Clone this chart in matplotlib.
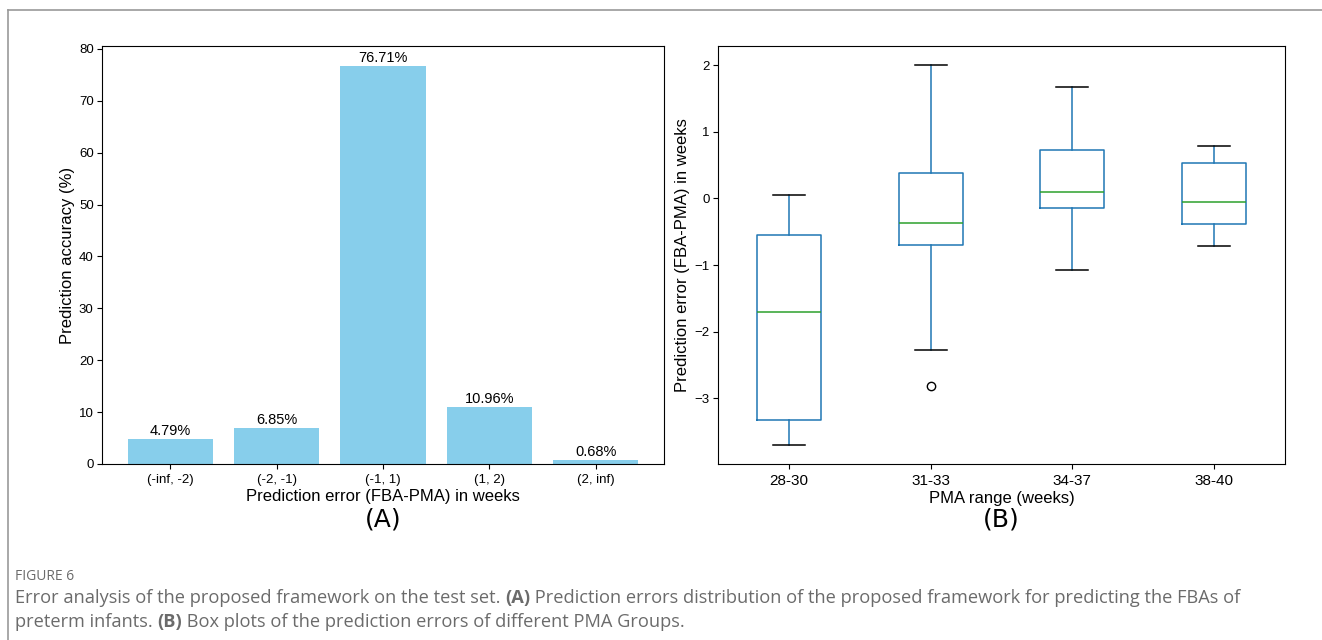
import matplotlib
matplotlib.use("Agg")
import matplotlib.pyplot as plt
from matplotlib.lines import Line2D

plt.rcParams['font.family'] = ['Liberation Sans', 'DejaVu Sans']

# panel A data
error_bins = ['(-inf, -2)', '(-2, -1)', '(-1, 1)', '(1, 2)', '(2, inf)']
accuracy = [4.79, 6.85, 76.71, 10.96, 0.68]

# panel B data (box statistics)
pma_groups = ['28-30', '31-33', '34-37', '38-40']
whisker_low = [-3.70, -2.27, -1.07, -0.72]
q1 = [-3.33, -0.70, -0.15, -0.38]
median = [-1.70, -0.37, 0.09, -0.05]
q3 = [-0.55, 0.38, 0.72, 0.53]
whisker_high = [0.05, 2.00, 1.67, 0.78]
outliers = [[], [-2.82], [], []]

fig = plt.figure(figsize=(13.22, 6.4), dpi=100)

# page frame (left + top rule)
fig.add_artist(Line2D([8 / 1322, 8 / 1322], [0, 1 - 10 / 640], color='#999999', lw=1.2))
fig.add_artist(Line2D([8 / 1322, 1], [1 - 10 / 640, 1 - 10 / 640], color='#999999', lw=1.2))

# ---- (A) bar chart
axA = fig.add_axes([102 / 1322, 1 - 464 / 640, 562 / 1322, 418 / 640])
bars = axA.bar(error_bins, accuracy, color='skyblue', width=0.8)
axA.bar_label(bars, labels=[f'{v:.2f}%' for v in accuracy], fontsize=10.5, padding=1)
axA.set_ylabel('Prediction accuracy (%)', fontsize=12, labelpad=3)
axA.set_xlabel('Prediction error (FBA-PMA) in weeks', fontsize=12, labelpad=2)
axA.tick_params(axis='x', labelsize=9.5)
axA.tick_params(axis='y', labelsize=9.5, pad=2.5)
axA.text(0.5, -0.132, '(A)', transform=axA.transAxes, ha='center', va='center',
         fontsize=18, family=['DejaVu Sans'])

# ---- (B) box plots
axB = fig.add_axes([718 / 1322, 1 - 464 / 640, 567 / 1322, 418 / 640])
stats = []
for i, g in enumerate(pma_groups):
    stats.append({'label': g, 'whislo': whisker_low[i], 'q1': q1[i], 'med': median[i],
                  'q3': q3[i], 'whishi': whisker_high[i], 'fliers': outliers[i]})
axB.bxp(stats, widths=0.45,
        boxprops=dict(color='#1f77b4', lw=1.1),
        whiskerprops=dict(color='#1f77b4', lw=1.1),
        medianprops=dict(color='#2ca02c', lw=1.1),
        capprops=dict(color='black', lw=1.1),
        flierprops=dict(marker='o', markerfacecolor='none', markeredgecolor='black', markersize=6))
axB.set_ylabel('Prediction error (FBA-PMA) in weeks', fontsize=12, labelpad=3)
axB.set_xlabel('PMA range (weeks)', fontsize=12, labelpad=2)
axB.tick_params(axis='x', labelsize=11)
axB.tick_params(axis='y', labelsize=9.5, pad=2.5)
axB.text(0.5, -0.132, '(B)', transform=axB.transAxes, ha='center', va='center',
         fontsize=18, family=['DejaVu Sans'])

# ---- caption
cap_font = ['Open Sans', 'DejaVu Sans']
cap_col = '#6b6b6b'
fig.text(15 / 1322, 1 - 580 / 640, 'FIGURE 6', fontsize=10, color=cap_col,
         family=cap_font, va='baseline')

lines = [
    [('Error analysis of the proposed framework on the test set. ', 'normal'),
     ('(A)', 'bold'),
     (' Prediction errors distribution of the proposed framework for predicting the FBAs of', 'normal')],
    [('preterm infants. ', 'normal'), ('(B)', 'bold'),
     (' Box plots of the prediction errors of different PMA Groups.', 'normal')],
]
baselines = [603, 627]
fig.canvas.draw()
renderer = fig.canvas.get_renderer()
for segs, yb in zip(lines, baselines):
    x = 15
    for txt, weight in segs:
        t = fig.text(x / 1322, 1 - yb / 640, txt, fontsize=13.15, color=cap_col,
                     family=cap_font, fontweight=weight, va='baseline')
        x += t.get_window_extent(renderer).width

fig.savefig('out.png', dpi=100)
